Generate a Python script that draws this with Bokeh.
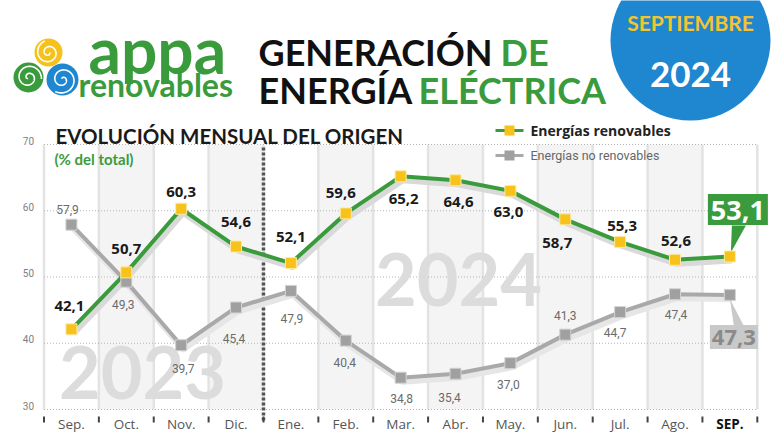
import numpy as np
from bokeh.plotting import figure
from bokeh.models import Range1d, ColumnDataSource
from bokeh.core.properties import value
from bokeh.embed import file_html
from bokeh.resources import INLINE

# ---------------- data ----------------
months = ["Sep.", "Oct.", "Nov.", "Dic.", "Ene.", "Feb.", "Mar.", "Abr.",
          "May.", "Jun.", "Jul.", "Ago.", "SEP."]
renovables = [42.1, 50.7, 60.3, 54.6, 52.1, 59.6, 65.2, 64.6, 63.0, 58.7, 55.3, 52.6, 53.1]
no_renovables = [57.9, 49.3, 39.7, 45.4, 47.9, 40.4, 34.8, 35.4, 37.0, 41.3, 44.7, 47.4, 47.3]
y_ticks = [30, 40, 50, 60, 70]
year_marks = ["2023", "2024"]
legend_names = ["Energías renovables", "Energías no renovables"]


def fmt(v):
    return f"{v:.1f}".replace(".", ",")


# ---------------- label placement (pixels, styling only) ----------------
ren_dx = [-2, 0, 0, 0, 0, -5, 3, 3, -2, -8, 2, 1]
ren_dy = [-23, -23, -17, -25, -26, -20, 23, 22, 21, 24, -16, -19]
non_dx = [-4, -3, 2, -2, 1, -1, 1, -6, -2, 0, -5, 1]
non_dy = [-15, 23, 23, 31, 28, 22, 21, 24, 21, -19, 20, 20]

# ---------------- layout constants ----------------
W, H = 772, 432
COL_W = 54.87            # px per category
X0 = 43.5                # page x of first category boundary
UNIT_H = 6.625           # px per percentage point
Y30 = 409                # page y of value 30

GREEN = "#3a9b3c"
YELLOW = "#f7c21b"
GREY_L = "#a9a9a9"
GREY_M = "#a0a0a0"
FONT_N = "Roboto"

x_start = (0 - X0) / COL_W
x_end = (W - X0) / COL_W
y_start = 30 - (H - Y30) / UNIT_H
y_end = 30 + Y30 / UNIT_H

p = figure(width=W, height=H, title=None,
           x_range=Range1d(x_start, x_end), y_range=Range1d(y_start, y_end),
           x_axis_type=None, y_axis_type=None, toolbar_location=None,
           output_backend="svg", min_border=0, outline_line_color=None,
           background_fill_color="white", border_fill_color="white")
p.extra_x_ranges = {"px": Range1d(0, W)}
p.extra_y_ranges = {"px": Range1d(H, 0)}
PX = dict(x_range_name="px", y_range_name="px")

n = len(months)
idx = np.arange(n)
centers = idx + 0.5
bounds = np.arange(n + 1)
odd = idx[idx % 2 == 1]

# ---------------- plot background ----------------
p.quad(left=odd, right=odd + 1, bottom=y_ticks[0], top=y_ticks[-1],
       fill_color="#f4f4f4", line_color=None)
p.segment(x0=bounds, y0=y_ticks[0], x1=bounds, y1=y_ticks[-1],
          line_color="#e3e3e3", line_width=2.5)
p.segment(x0=0, y0=y_ticks, x1=n, y1=y_ticks, line_color="#b5b5b5",
          line_dash="1 2", line_width=1)

# big year watermarks
p.text(x=[142, 458], y=[372, 279], text=year_marks, **PX,
       text_font=value("Lato"), text_font_style="bold", text_font_size="72px",
       text_color="#dcdcdc", text_align="center", text_baseline="middle")

# separator between years
sep = months.index("Ene.")
p.segment(x0=[sep], x1=[sep], y0=[147], y1=[422], y_range_name="px",
          line_color="#555555", line_width=3.5, line_dash="3 2")

# tick marks
p.segment(x0=bounds, x1=bounds, y0=416, y1=422, y_range_name="px",
          line_color="#444444", line_width=2)

# y tick labels
p.text(x=0, y=y_ticks, text=[str(t) for t in y_ticks], x_offset=-10, y_offset=-4,
       text_font=value(FONT_N), text_font_size="10px",
       text_color="#808080", text_align="right", text_baseline="middle")

# x labels
xl_style = ["normal"] * (n - 1) + ["bold"]
xl_color = ["#555555"] * (n - 1) + ["#111111"]
p.text(x="x", y="y", text="t", source=ColumnDataSource(dict(
    x=centers, y=[y_ticks[0]] * n, t=months, s=xl_style, c=xl_color)),
    y_offset=14, text_font=value("Open Sans"), text_font_style="s",
    text_color="c", text_font_size="13.5px", text_align="center",
    text_baseline="middle")

# ---------------- series ----------------
ren = np.array(renovables)
non = np.array(no_renovables)
shx, shy = 2 / COL_W, 4 / UNIT_H
p.line(centers + shx, non - shy, line_color="#e6e6e6", line_width=6, line_join="round")
p.line(centers + shx, ren - shy, line_color="#d9d9d9", line_width=6, line_join="round")
p.line(centers, non, line_color=GREY_L, line_width=4, line_join="round")
p.line(centers, ren, line_color=GREEN, line_width=4, line_join="round")

# ---------------- callouts for last month ----------------
last = n - 1
cx = centers[last]


def off(v, dx, dy):
    return cx + dx / COL_W, v - dy / UNIT_H


vr, vn = ren[last], non[last]
# green
bx, by = off(vr, 8, -47)
tri = [off(vr, 2, -31), off(vr, 16, -31), off(vr, 1, -4)]
p.patch(x=[a for a, b in tri], y=[b for a, b in tri], fill_color=GREEN, line_color=None)
p.rect(x=[bx], y=[by], width=60, height=31, width_units="screen",
       height_units="screen", fill_color=GREEN, line_color=None)
p.text(x=[bx], y=[by], text=[fmt(vr)], y_offset=1, text_font=value("Open Sans"),
       text_font_style="bold", text_font_size="27px", text_color="white",
       text_align="center", text_baseline="middle")
# grey
gx, gy = off(vn, 4, 42)
tri = [off(vn, 0, 4), off(vn, 4, 31), off(vn, 14, 31)]
p.patch(x=[a for a, b in tri], y=[b for a, b in tri], fill_color="#c9c9c9", line_color=None)
p.rect(x=[gx], y=[gy], width=48, height=24, width_units="screen",
       height_units="screen", fill_color="#c9c9c9", line_color=None)
p.text(x=[gx], y=[gy], text=[fmt(vn)], y_offset=1, text_font=value("Open Sans"),
       text_font_style="bold", text_font_size="22px", text_color="#8a8a8a",
       text_align="center", text_baseline="middle")

# markers
p.scatter(centers, non, marker="square", size=11, fill_color=GREY_M,
          line_color="#d2d2d2", line_width=1)
p.scatter(centers, ren, marker="square", size=11, fill_color=YELLOW,
          line_color="#fdeaa0", line_width=1)

# value labels
p.text(x="x", y="y", text="t", x_offset="dx", y_offset="dy",
       source=ColumnDataSource(dict(x=centers[:-1], y=renovables[:-1],
                                    t=[fmt(v) for v in renovables[:-1]],
                                    dx=ren_dx, dy=ren_dy)),
       text_font=value("Open Sans"), text_font_style="bold", text_font_size="15px",
       text_color="#1a1a1a", text_align="center", text_baseline="middle")
p.text(x="x", y="y", text="t", x_offset="dx", y_offset="dy",
       source=ColumnDataSource(dict(x=centers[:-1], y=no_renovables[:-1],
                                    t=[fmt(v) for v in no_renovables[:-1]],
                                    dx=non_dx, dy=non_dy)),
       text_font=value(FONT_N), text_font_size="12px",
       text_color="#6b6b6b", text_align="center", text_baseline="middle")

# ---------------- legend ----------------
p.segment(x0=[495, 495], x1=[523, 523], y0=[130, 155], y1=[130, 155],
          line_color=[GREEN, GREY_L], line_width=3, **PX)
p.scatter(x=[509, 509], y=[130, 155], marker="square", size=10,
          fill_color=[YELLOW, GREY_M], line_color=None, **PX)
p.text(x=[530], y=[130], text=[legend_names[0]], **PX, text_font=value("Open Sans"),
       text_font_style="bold", text_font_size="14px", text_color="#222222",
       text_baseline="middle")
p.text(x=[530], y=[155], text=[legend_names[1]], **PX,
       text_font=value(FONT_N), text_font_size="12.5px",
       text_color="#666666", text_baseline="middle")

# ---------------- chart headings ----------------
p.text(x=[55], y=[135], text=["EVOLUCIÓN MENSUAL DEL ORIGEN"], **PX,
       text_font=value("Lato"), text_font_style="bold", text_font_size="20.5px",
       text_color="#1a1a1a", text_baseline="middle")
p.text(x=[54], y=[158], text=["(% del total)"], **PX,
       text_font=value("Lato"), text_font_style="bold", text_font_size="15px",
       text_color=GREEN, text_baseline="middle")

# ---------------- page header ----------------
# blue month badge
p.circle(x=[690], y=[40], radius=80, fill_color="#1f86d0", line_color=None, **PX)
p.text(x=[690], y=[22], text=["SEPTIEMBRE"], **PX, text_font=value("Lato"),
       text_font_style="bold", text_font_size="21px", text_color="#f4c430",
       text_align="center", text_baseline="middle")
p.text(x=[690], y=[74], text=["2024"], **PX, text_font=value("Lato"),
       text_font_style="bold", text_font_size="35px", text_color="white",
       text_align="center", text_baseline="middle")

# title
for word, xx, yy, col in [("GENERACIÓN", 258, 51, "#111111"), ("DE", 500, 51, GREEN),
                          ("ENERGÍA", 258, 89, "#111111"), ("ELÉCTRICA", 418, 89, GREEN)]:
    p.text(x=[xx], y=[yy], text=[word], **PX, text_font=value("Lato"),
           text_font_style="bold", text_font_size="36px", text_color=col,
           text_baseline="middle")

# logo swirls
for cxp, cyp, rr, col, ph in [(48, 52, 14, "#f5c21b", 0.0), (28, 77, 15, "#3a9b3c", 2.0),
                              (62, 79, 16, "#1f86d0", 4.0)]:
    p.circle(x=[cxp], y=[cyp], radius=rr, fill_color=col, line_color=None, **PX)
    t = np.linspace(0, 1.7 * 2 * np.pi, 200)
    r = 1 + (rr - 3) * t / t[-1]
    p.line(cxp + r * np.cos(t + ph), cyp + r * np.sin(t + ph), line_color="white",
           line_width=1.6, **PX)
p.text(x=[88], y=[49], text=["appa"], **PX, text_font=value("Lato"),
       text_font_style="bold", text_font_size="64px", text_color=GREEN,
       text_baseline="middle")
p.text(x=[78], y=[84], text=["renovables"], **PX, text_font=value("Lato"),
       text_font_style="bold", text_font_size="32px", text_color=GREEN,
       text_baseline="middle")

open("out.html", "w").write(file_html(p, INLINE))
